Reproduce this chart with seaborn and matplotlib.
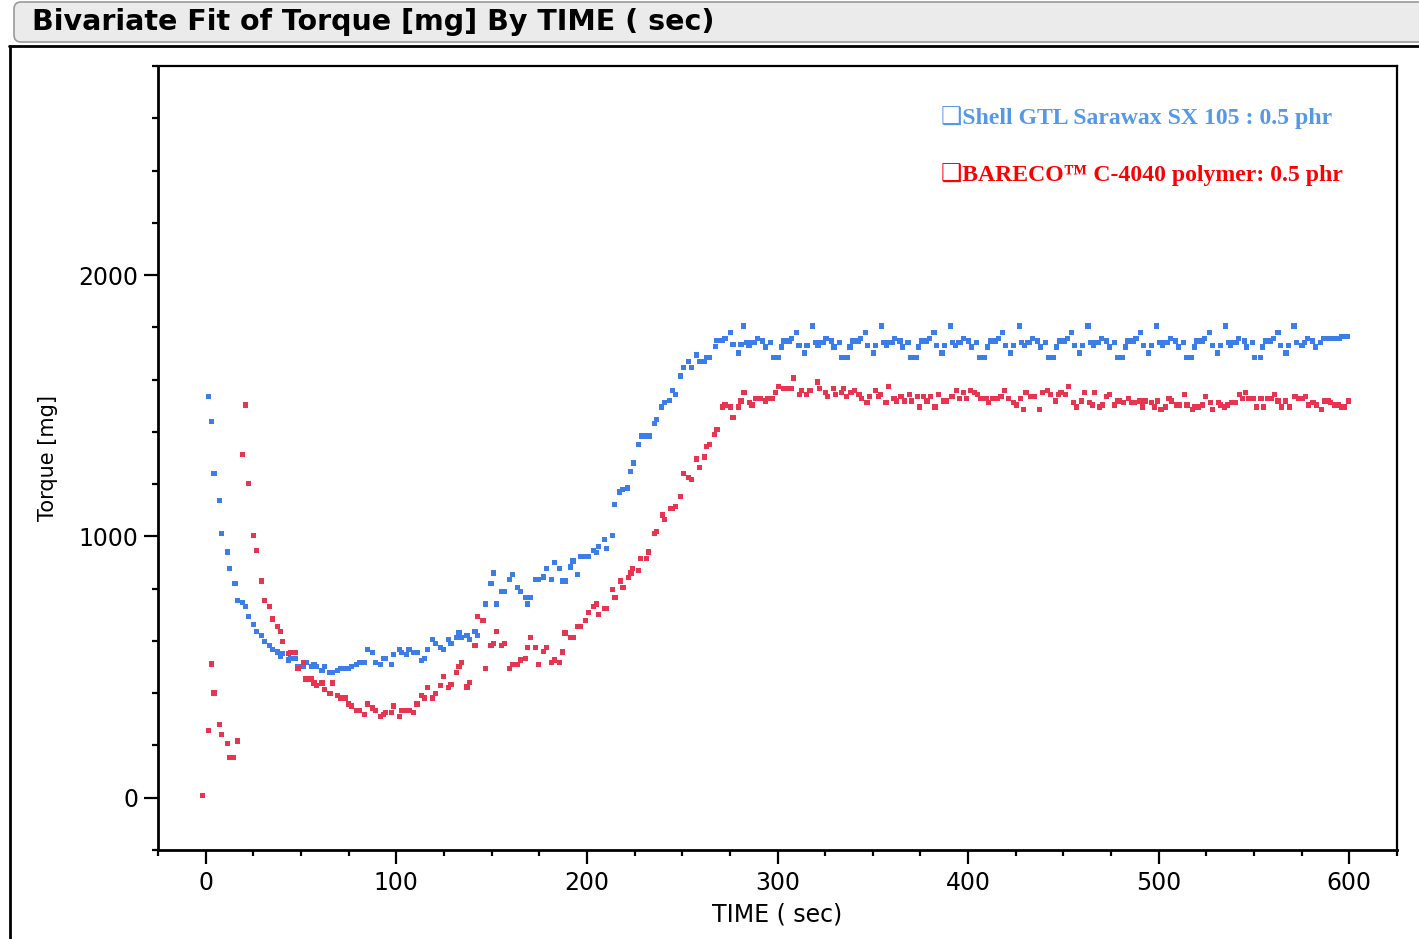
import numpy as np
import pandas as pd
import matplotlib
matplotlib.use("Agg")
import matplotlib.pyplot as plt
import seaborn as sns
from matplotlib.patches import FancyBboxPatch
from matplotlib.lines import Line2D
from matplotlib.ticker import MultipleLocator, FixedLocator
from matplotlib.transforms import IdentityTransform

# ---------------- data ----------------
SERIES_NAMES = ["Shell GTL Sarawax SX 105 : 0.5 phr", "BARECO\u2122 C-4040 polymer: 0.5 phr"]

SHELL_TIME = [
    -1.5,
    1.6, 3.0, 4.4, 7.2, 8.5, 11.4, 12.6, 15.4, 16.8, 19.5,
    21.0, 22.4, 25.2, 26.6, 29.3, 30.7, 33.5, 35.0, 37.7, 39.1,
    40.5, 43.3, 44.5, 47.0, 48.4, 51.2, 52.6, 55.4, 56.8, 58.2,
    61.0, 62.4, 65.2, 66.6, 69.3, 70.7, 73.5, 74.9, 76.4, 79.1,
    80.5, 83.3, 84.7, 87.5, 88.9, 91.7, 93.1, 94.5, 97.3, 98.7,
    101.5, 102.9, 105.3, 106.7, 109.2, 110.9, 113.4, 114.8, 116.2, 119.0,
    120.4, 123.1, 124.6, 127.3, 128.7, 131.5, 132.9, 134.3, 137.1, 138.5,
    141.3, 142.7, 145.5, 146.9, 149.7, 151.1, 152.5, 155.3, 156.7, 159.5,
    160.9, 163.7, 165.1, 167.9, 168.9, 170.3, 173.1, 174.5, 177.3, 178.7,
    181.5, 182.9, 185.7, 187.1, 188.5, 191.3, 192.7, 195.1, 196.5, 199.3,
    200.7, 203.5, 204.9, 206.3, 209.1, 210.5, 213.3, 214.6, 217.3, 218.7,
    221.5, 222.9, 224.3, 227.1, 228.5, 231.3, 232.7, 235.4, 236.5, 239.3,
    240.7, 243.5, 244.9, 246.3, 249.1, 250.5, 253.3, 254.7, 257.5, 258.9,
    261.6, 262.7, 264.5, 267.3, 268.3, 271.1, 272.5, 275.3, 276.7, 279.5,
    280.9,
    282.3, 283.7, 285.1, 286.5, 287.9, 289.3, 292.1, 293.5, 296.3, 297.7,
    300.5, 301.9, 303.3, 304.7, 306.1, 307.5, 309.9, 311.3, 314.1, 315.5,
    318.4, 319.8, 321.2, 322.6, 324.0, 325.4, 328.2, 329.6, 332.4, 333.8,
    336.6, 338.0, 339.4, 340.8, 342.2, 343.6, 346.0, 347.4, 350.2, 351.6,
    354.5, 355.9, 357.3, 358.7, 360.1, 361.5, 364.3, 365.7, 368.5, 369.9,
    372.7, 374.1, 375.5, 376.9, 378.3, 379.7, 382.1, 383.5, 386.3, 387.7,
    390.6, 392.0, 393.4, 394.8, 396.2, 397.6, 400.4, 401.8, 404.6, 406.0,
    408.8, 410.2, 411.6, 413.0, 414.4, 415.8, 418.2, 419.6, 422.4, 423.8,
    426.8, 428.2, 429.6, 431.0, 432.4, 433.8, 436.6, 438.0, 440.8, 442.2,
    445.0, 446.4, 447.8, 449.2, 450.6, 452.0, 454.4, 455.8, 458.6, 460.0,
    462.9, 464.3, 465.7, 467.1, 468.5, 469.9, 472.7, 474.1, 476.9, 478.3,
    481.1, 482.5, 483.9, 485.3, 486.7, 488.1, 490.5, 491.9, 494.7, 496.1,
    499.0, 500.4, 501.8, 503.2, 504.6, 506.0, 508.8, 510.2, 513.0, 514.4,
    517.2, 518.6, 520.0, 521.4, 522.8, 524.2, 526.6, 528.0, 530.8, 532.2,
    535.0, 536.4, 537.8, 539.2, 540.6, 542.0, 544.8, 546.2, 549.0, 550.4,
    553.2, 554.6, 556.0, 557.4, 558.8, 560.2, 562.6, 564.0, 566.8, 568.2,
    571.0, 572.4, 575.2, 576.6, 578.0, 580.8, 582.2, 585.0, 586.4, 589.2,
    590.6, 593.3, 594.7, 596.1, 599.0,
]
SHELL_TORQUE = [
    10,
    1535, 1439, 1242, 1138, 1011, 940, 876, 820, 756, 748,
    732, 693, 662, 637, 622, 598, 582, 566, 558, 542,
    551, 527, 534, 534, 502, 502, 517, 502, 510, 502,
    486, 502, 478, 478, 486, 493, 493, 493, 502, 510,
    517, 517, 566, 557, 517, 510, 534, 534, 510, 549,
    566, 557, 549, 566, 557, 557, 525, 534, 566, 605,
    589, 574, 566, 605, 590, 614, 630, 614, 622, 605,
    637, 622, 677, 741, 821, 860, 741, 789, 789, 836,
    853, 804, 789, 765, 741, 765, 836, 836, 845, 876,
    836, 899, 877, 829, 829, 883, 906, 853, 923, 923,
    923, 947, 938, 962, 987, 955, 1002, 1122, 1170, 1178,
    1185, 1249, 1281, 1352, 1384, 1384, 1384, 1431, 1447, 1495,
    1511, 1519, 1559, 1542, 1614, 1646, 1670, 1646, 1694, 1670,
    1670, 1686, 1686, 1726, 1749, 1749, 1757, 1781, 1734, 1702,
    1734,
    1805, 1741, 1732, 1741, 1741, 1757, 1748, 1725, 1741, 1685,
    1685, 1725, 1748, 1748, 1748, 1757, 1781, 1732, 1702, 1732,
    1805, 1741, 1732, 1741, 1741, 1757, 1748, 1725, 1741, 1685,
    1685, 1725, 1748, 1748, 1748, 1757, 1781, 1732, 1702, 1732,
    1805, 1741, 1732, 1741, 1741, 1757, 1748, 1725, 1741, 1685,
    1685, 1725, 1748, 1748, 1748, 1757, 1781, 1732, 1702, 1732,
    1805, 1741, 1732, 1741, 1741, 1757, 1748, 1725, 1741, 1685,
    1685, 1725, 1748, 1748, 1748, 1757, 1781, 1732, 1702, 1732,
    1805, 1741, 1732, 1741, 1741, 1757, 1748, 1725, 1741, 1685,
    1685, 1725, 1748, 1748, 1748, 1757, 1781, 1732, 1702, 1732,
    1805, 1741, 1732, 1741, 1741, 1757, 1748, 1725, 1741, 1685,
    1685, 1725, 1748, 1748, 1748, 1757, 1781, 1732, 1702, 1732,
    1805, 1741, 1732, 1741, 1741, 1757, 1748, 1725, 1741, 1685,
    1685, 1725, 1748, 1748, 1748, 1757, 1781, 1732, 1702, 1732,
    1805, 1741, 1732, 1741, 1741, 1757, 1748, 1725, 1741, 1685,
    1685, 1725, 1748, 1748, 1748, 1757, 1781, 1732, 1702, 1732,
    1805, 1741, 1732, 1741, 1757, 1748, 1725, 1741, 1757, 1757,
    1757, 1757, 1757, 1764, 1764,
]

BARECO_TIME = [
    -1.5, 1.6, 3.0, 4.4, 7.2, 8.5, 11.4, 12.6, 14.3, 16.7,
    19.5, 21.0, 22.4, 25.2, 26.6, 29.3, 30.7, 33.5, 35.0, 37.7,
    39.1, 40.5, 43.3, 44.5, 47.0, 48.4, 51.2, 52.6, 55.4, 56.8,
    58.2, 61.0, 62.4, 65.2, 66.6, 69.3, 70.7, 73.5, 74.9, 76.4,
    79.1, 80.5, 83.3, 84.7, 87.5, 88.9, 91.7, 93.1, 94.5, 97.3,
    98.7, 101.5, 102.9, 105.3, 106.7, 109.2, 110.9, 113.4, 114.8, 116.2,
    119.0, 120.4, 123.1, 124.6, 127.3, 128.7, 131.5, 132.9, 134.3, 137.1,
    138.5, 141.3, 142.7, 145.5, 146.9, 149.7, 151.1, 152.5, 155.3, 156.7,
    159.5, 160.9, 163.7, 165.1, 167.9, 168.9, 170.3, 173.1, 174.5, 177.3,
    178.7, 181.5, 182.9, 185.7, 187.1, 188.5, 191.3, 192.7, 195.1, 196.5,
    199.3, 200.7, 203.5, 204.9, 206.3, 209.1, 210.5, 213.3, 214.7, 217.5,
    218.9, 221.7, 223.1, 224.1, 226.9, 228.3, 231.1, 232.5, 235.3, 236.7,
    239.5, 240.9, 243.7, 245.1, 246.4, 249.1, 250.5, 253.3, 254.7, 257.5,
    258.9, 261.6, 262.7, 264.5, 266.9, 268.3, 271.1, 272.5, 275.3, 276.7,
    279.5, 280.9, 282.4, 285.2, 286.6, 288.5, 290.8, 293.6, 295.0, 297.4,
    298.8, 300.6, 303.0, 305.8, 307.2, 308.6, 311.4, 312.8, 315.2, 317.0,
    320.8, 322.2, 325.0, 326.4, 329.2, 330.6, 333.4, 334.8, 336.3, 338.6,
    340.5, 342.8, 344.2, 347.0, 348.4, 351.3, 353.1, 354.1, 356.9, 358.3,
    361.1, 362.5, 364.8, 366.7, 369.1, 370.5, 373.3, 374.7, 376.6, 378.4,
    380.3, 382.6, 384.5, 387.3, 388.7, 391.5, 393.9, 395.3, 397.6, 399.0,
    401.4, 403.3, 405.1, 406.5, 409.4, 410.8, 412.6, 415.4, 417.3, 419.2,
    421.1, 423.9, 425.3, 427.6, 429.0, 430.4, 432.8, 434.7, 437.5, 438.9,
    441.7, 443.1, 445.9, 447.3, 448.7, 451.1, 452.5, 455.3, 456.7, 459.5,
    460.9, 463.7, 465.1, 466.5, 468.9, 470.3, 472.6, 474.0, 476.8, 478.2,
    479.6, 481.5, 484.3, 485.7, 487.1, 490.0, 491.4, 492.8, 496.0, 497.9,
    499.3, 501.2, 503.5, 505.4, 506.8, 509.6, 510.6, 513.4, 514.8, 517.6,
    519.0, 520.9, 522.8, 524.6, 527.0, 528.4, 531.2, 532.6, 534.5, 535.9,
    538.2, 540.1, 542.4, 543.8, 545.7, 547.1, 549.9, 551.3, 553.7, 555.1,
    557.0, 559.3, 560.7, 562.6, 564.5, 566.3, 568.7, 571.5, 573.4, 575.2,
    577.1, 578.5, 580.9, 582.7, 585.6, 587.0, 588.8, 590.2, 592.1, 594.0,
    595.9, 597.3, 599.6,
]
BARECO_TORQUE = [
    10, 256, 512, 401, 280, 241, 209, 153, 153, 217,
    1312, 1503, 1201, 1002, 947, 829, 756, 732, 684, 654,
    637, 598, 551, 557, 557, 493, 517, 454, 454, 439,
    430, 439, 414, 399, 439, 390, 382, 382, 359, 351,
    335, 335, 319, 359, 343, 335, 311, 319, 326, 326,
    351, 311, 335, 335, 335, 326, 359, 390, 382, 422,
    382, 399, 430, 463, 422, 432, 479, 502, 519, 424,
    440, 583, 693, 677, 495, 583, 590, 637, 583, 590,
    495, 511, 511, 527, 534, 575, 614, 575, 511, 559,
    575, 519, 527, 519, 558, 630, 614, 614, 654, 654,
    677, 709, 733, 741, 701, 725, 725, 797, 765, 829,
    804, 844, 860, 876, 868, 915, 915, 940, 1011, 1018,
    1082, 1066, 1106, 1106, 1114, 1154, 1240, 1225, 1217, 1296,
    1265, 1304, 1343, 1351, 1391, 1410, 1495, 1503, 1495, 1454,
    1495, 1518, 1550, 1512, 1503, 1527, 1527, 1518, 1527, 1527,
    1550, 1574, 1567, 1567, 1567, 1606, 1542, 1559, 1542, 1559,
    1591, 1567, 1550, 1535, 1567, 1542, 1550, 1567, 1535, 1550,
    1559, 1542, 1527, 1512, 1535, 1559, 1535, 1542, 1512, 1574,
    1527, 1518, 1535, 1518, 1542, 1518, 1535, 1495, 1535, 1518,
    1535, 1495, 1542, 1518, 1518, 1535, 1559, 1527, 1550, 1527,
    1559, 1550, 1542, 1527, 1527, 1512, 1527, 1527, 1535, 1559,
    1527, 1512, 1503, 1527, 1486, 1550, 1535, 1535, 1486, 1550,
    1559, 1542, 1518, 1542, 1550, 1542, 1574, 1512, 1495, 1518,
    1550, 1512, 1503, 1550, 1495, 1503, 1535, 1542, 1503, 1518,
    1518, 1512, 1527, 1512, 1512, 1518, 1495, 1518, 1512, 1495,
    1518, 1486, 1495, 1527, 1518, 1503, 1503, 1542, 1503, 1486,
    1495, 1495, 1503, 1535, 1512, 1486, 1512, 1503, 1495, 1503,
    1512, 1512, 1542, 1527, 1550, 1527, 1527, 1495, 1527, 1495,
    1527, 1527, 1542, 1518, 1495, 1518, 1495, 1535, 1527, 1527,
    1535, 1503, 1512, 1503, 1486, 1518, 1518, 1512, 1503, 1503,
    1495, 1495, 1518,
]

X_MAJOR_TICKS = [0, 100, 200, 300, 400, 500, 600]
Y_MAJOR_TICKS = [0, 1000, 2000]

assert len(SHELL_TIME) == len(SHELL_TORQUE), (len(SHELL_TIME), len(SHELL_TORQUE))
assert len(BARECO_TIME) == len(BARECO_TORQUE), (len(BARECO_TIME), len(BARECO_TORQUE))

# ---------------- styling ----------------
BLUE = "#3b7de9"
RED = "#e8354f"
BLUE_TEXT = "#5598e8"
RED_TEXT = "#ff0000"

sns.set_theme(style="white")
plt.rcParams["font.family"] = ["DejaVu Sans"]

W, H = 1419, 939
fig = plt.figure(figsize=(W / 100, H / 100), dpi=100)
fig.patch.set_facecolor("white")

# title bar
bar = FancyBboxPatch((14, H - 42), 1430, 40, boxstyle="round,pad=0,rounding_size=7",
                     transform=IdentityTransform(), facecolor="#ebebeb",
                     edgecolor="#9a9a9a", linewidth=1.2)
fig.add_artist(bar)
fig.text(32 / W, 1 - 22 / H, "Bivariate Fit of Torque [mg] By TIME ( sec)",
         fontsize=20.5, fontweight="bold", va="center", ha="left", color="black")

# outer frame
fig.add_artist(Line2D([9, W], [H - 46, H - 46], transform=IdentityTransform(),
                      color="black", linewidth=2))
fig.add_artist(Line2D([10, 10], [H - 46, 0], transform=IdentityTransform(),
                      color="black", linewidth=2))

ax = fig.add_axes([158 / W, 1 - 850 / H, (1397 - 158) / W, (850 - 66) / H])
ax.set_facecolor("white")

df = pd.concat([
    pd.DataFrame({"TIME ( sec)": SHELL_TIME, "Torque [mg]": SHELL_TORQUE, "series": SERIES_NAMES[0]}),
    pd.DataFrame({"TIME ( sec)": BARECO_TIME, "Torque [mg]": BARECO_TORQUE, "series": SERIES_NAMES[1]}),
], ignore_index=True)

sns.scatterplot(data=df, x="TIME ( sec)", y="Torque [mg]", hue="series",
                hue_order=SERIES_NAMES, palette=[BLUE, RED], marker="s", s=14,
                linewidth=0, legend=False, ax=ax)

ax.set_xlim(-25, 625)
ax.set_ylim(-200, 2800)
ax.xaxis.set_major_locator(FixedLocator(X_MAJOR_TICKS))
ax.xaxis.set_minor_locator(MultipleLocator(25))
ax.yaxis.set_major_locator(FixedLocator(Y_MAJOR_TICKS))
ax.yaxis.set_minor_locator(MultipleLocator(200))
ax.tick_params(which="major", direction="out", length=10, width=1.6,
               labelsize=17, color="black", labelcolor="black", pad=4)
ax.tick_params(which="minor", direction="out", length=4, width=1.6, color="black")
ax.tick_params(axis="x", which="major", pad=5)
ax.tick_params(bottom=True, left=True, which="both")
ax.grid(False)

for side, lw in (("left", 2.0), ("bottom", 2.0), ("top", 1.6), ("right", 1.6)):
    ax.spines[side].set_visible(True)
    ax.spines[side].set_color("black")
    ax.spines[side].set_linewidth(lw)

ax.set_xlabel("TIME ( sec)", fontsize=17, color="black")
ax.set_ylabel("Torque [mg]", fontsize=15, color="black")
ax.xaxis.set_label_coords(0.5, -0.082)
ax.xaxis.label.set_va("center")
ax.yaxis.set_label_coords(-0.089, 0.5)
ax.yaxis.label.set_va("center")

legend_family = ["Liberation Serif", "DejaVu Sans"]
ax.text(0.632, 0.9337, "\u2751" + SERIES_NAMES[0], transform=ax.transAxes,
        fontsize=17.1, fontweight="bold", color=BLUE_TEXT, va="center", ha="left",
        family=legend_family)
ax.text(0.632, 0.861, "\u2751" + SERIES_NAMES[1], transform=ax.transAxes,
        fontsize=17.1, fontweight="bold", color=RED_TEXT, va="center", ha="left",
        family=legend_family)

fig.savefig("out.png", dpi=100, facecolor="white")
